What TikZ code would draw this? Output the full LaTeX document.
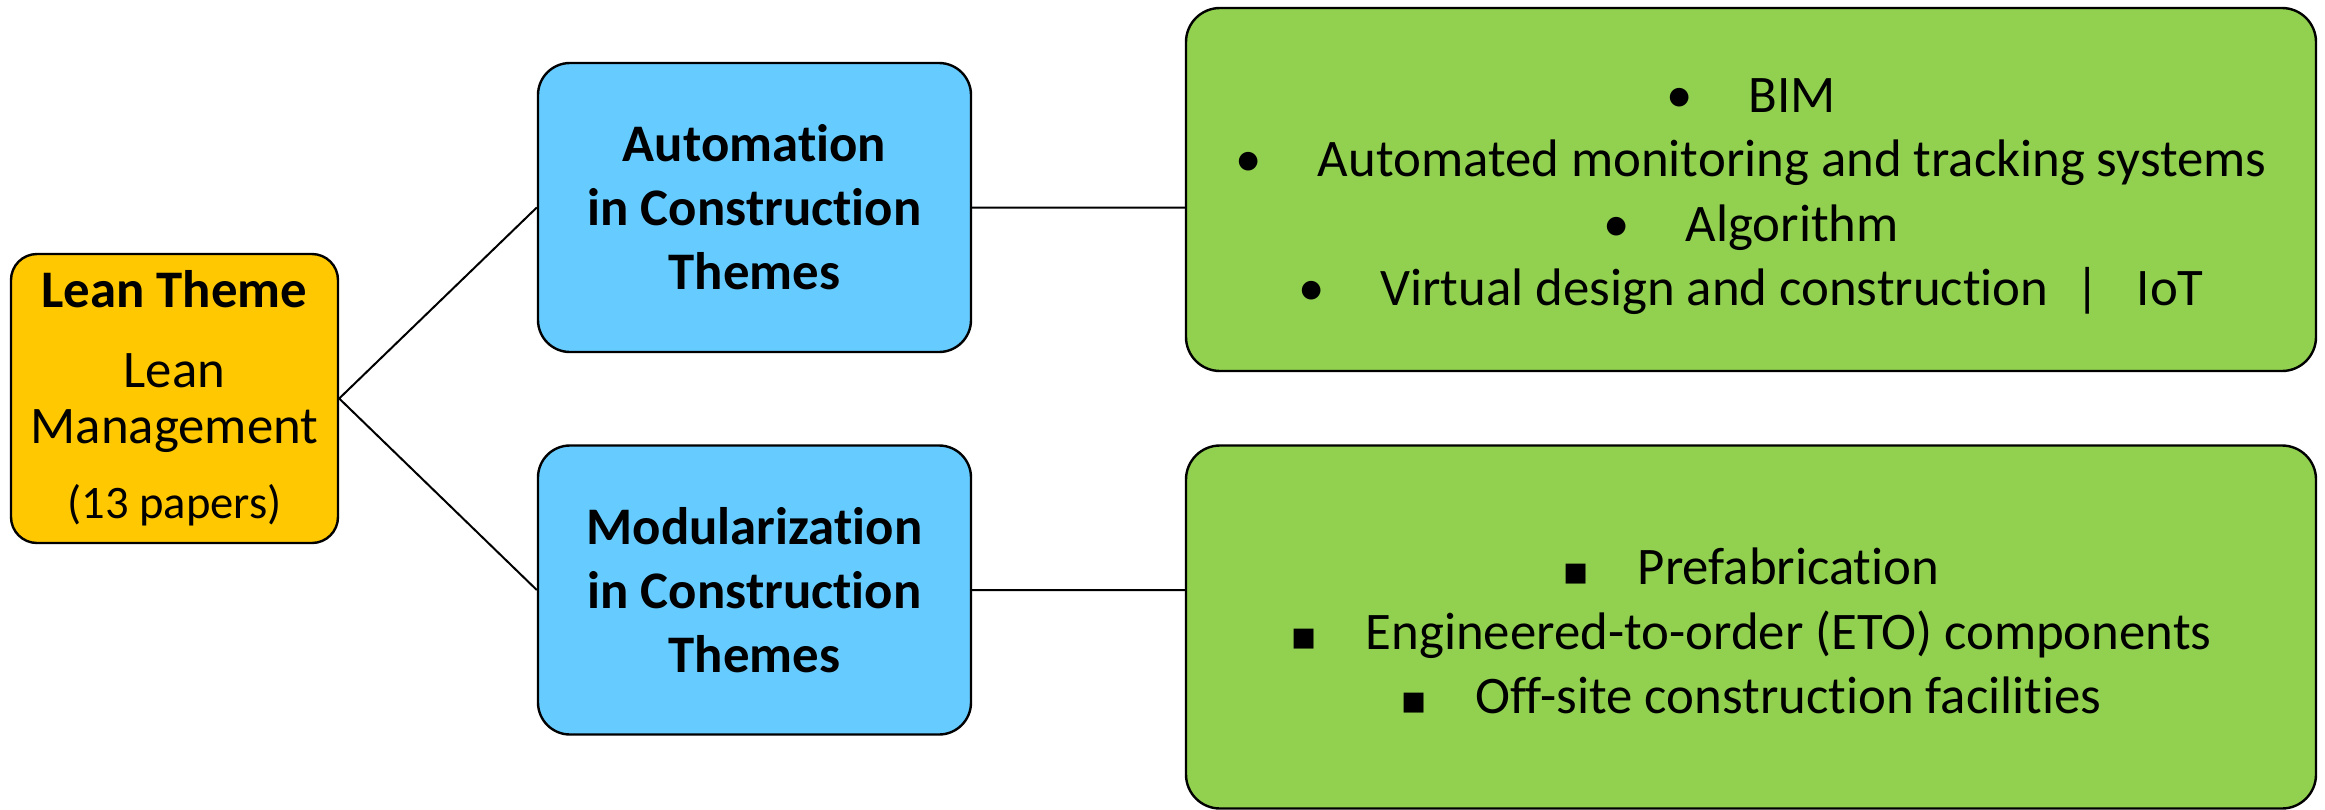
\documentclass[tikz,border=0pt]{standalone}
\usepackage{fontspec}
\setmainfont{Carlito}[Ligatures=NoCommon]
\newfontfamily\symfont{DejaVu Sans}
\usepackage{xcolor}
\usetikzlibrary{positioning}

\definecolor{leanyellow}{HTML}{FFC800}
\definecolor{themeblue}{HTML}{66CCFF}
\definecolor{listgreen}{HTML}{92D050}

\newcommand{\rbul}{\textbullet\hspace{28pt}}
\newcommand{\sbul}{{\symfont\fontsize{20}{20}\selectfont ▪}\hspace{24pt}}

\begin{document}
\begin{tikzpicture}[x=0.5pt, y=-0.5pt,
        every node/.style={font=\fontsize{26.4}{32.2}\selectfont, align=center, inner sep=0pt},
        leanbox/.style={draw, line width=1.2pt, rounded corners=13pt, fill=leanyellow,
            minimum width=163.5pt, minimum height=144.5pt, font=\fontsize{26.4}{28}\selectfont},
        themebox/.style={draw, line width=1.2pt, rounded corners=16pt, fill=themeblue,
            minimum width=216.5pt, minimum height=144.5pt, font=\bfseries\fontsize{26.4}{32}\selectfont},
        listbox/.style={draw, line width=1.2pt, rounded corners=17pt, fill=listgreen,
            minimum width=565pt, minimum height=181.5pt}]
    \useasboundingbox (0, 0) rectangle (2325, 809);
    \node[leanbox] (lean) at (174.5, 398.5) {\textbf{Lean Theme}\\[12pt] Lean\\ Management\\[9.5pt]
        {\fontsize{23.3}{28}\selectfont (13 papers)}};
    \node[themebox] (auto) at (754.5, 207.5) {Automation\\ in Construction\\ Themes};
    \node[themebox] (modul) at (754.5, 590) {Modularization\\ in Construction\\ Themes};
    % the rules push the lists a little below the middle of their boxes
    \node[listbox] (autolist) at (1751, 189.5) {\rule{0pt}{24pt}\rbul BIM\\
        \rbul Automated monitoring and tracking systems\\
        \rbul Algorithm\\
        \rbul Virtual design and construction\hspace{13.5pt}|\hspace{18.5pt}IoT};
    \node[listbox] (modlist) at (1751, 627) {\rule{0pt}{22.5pt}\sbul Prefabrication\\
        \sbul Engineered-to-order (ETO) components\\
        \sbul Off-site construction facilities};
    \draw[line width=1pt]
    (lean.east) -- (auto.west)
    (lean.east) -- (modul.west)
    (auto.east) -- (auto.east -| autolist.west)
    (modul.east) -- (modul.east -| modlist.west);
\end{tikzpicture}
\end{document}
